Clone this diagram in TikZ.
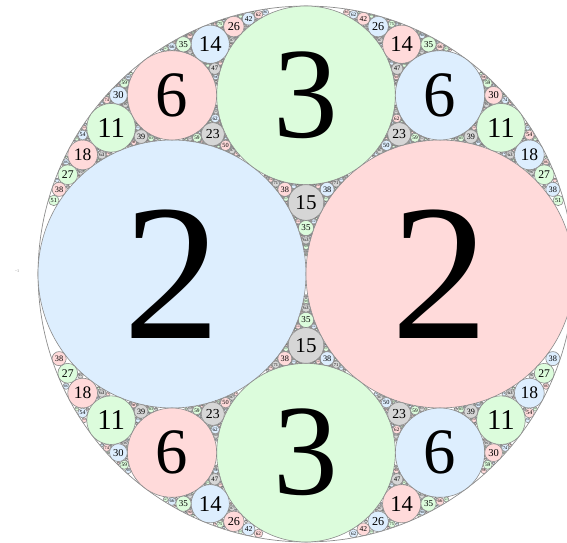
\documentclass[tikz,border=0pt]{standalone}
\usepackage{fontspec}
\setmainfont{Liberation Serif}
\usepackage{xcolor}
\usepackage{tikz}
\definecolor{GasketBlue}{HTML}{DDEEFE}
\definecolor{GasketPink}{HTML}{FFDADA}
\definecolor{GasketGreen}{HTML}{DCFCDC}
\definecolor{GasketGray}{HTML}{D6D6D6}
\definecolor{GasketLine}{HTML}{8C8C8C}

\newcount\gasketnum
\def\gasketmax{6}
\makeatletter
% read one circle "k,x,y,colour" into \g@k<n>, \g@x<n>, \g@y<n>, \g@c<n>
\def\gasket@rd#1,#2,#3,#4;#5{%
  \expandafter\def\csname g@k#5\endcsname{#1}%
  \expandafter\def\csname g@x#5\endcsname{#2}%
  \expandafter\def\csname g@y#5\endcsname{#3}%
  \expandafter\def\csname g@c#5\endcsname{#4}}
% one disc with its curvature written in it
\def\gasketdisc#1,#2,#3,#4;{%
  \global\advance\gasketnum by 1
  \edef\g@X{\fpeval{306+268*(#2)}}%
  \edef\g@Y{\fpeval{269+268*(#3)}}%
  \edef\g@r{\fpeval{5.36/(#1)}}%
  \path[disc,fill=#4] (\g@X,\g@Y) circle[radius=\g@r cm];
  \ifnum#1<301
    \edef\g@fs{\fpeval{((#1)<10 ? 1.45 : ((#1)<100 ? 1.18 : 0.85))*268/(#1)*0.569}}%
    \node[lbl] (n\the\gasketnum) at (\g@X,\g@Y) {\fontsize{\g@fs pt}{\g@fs pt}\selectfont #1};
  \fi}
% tangent triple #1 #2 #3, opposite circle #4, generation #5
\def\gasket#1#2#3#4#5{%
  \ifnum#5>\gasketmax\relax\else
  \begingroup
    \gasket@rd#1;a\gasket@rd#2;b\gasket@rd#3;c\gasket@rd#4;d%
    \edef\g@kn{\fpeval{2*(\g@ka+\g@kb+\g@kc)-\g@kd}}%
    \ifnum\g@kn>1200 \def\next{}\else
      \edef\g@xn{\fpeval{(2*(\g@ka*\g@xa+\g@kb*\g@xb+\g@kc*\g@xc)-\g@kd*\g@xd)/\g@kn}}%
      \edef\g@yn{\fpeval{(2*(\g@ka*\g@ya+\g@kb*\g@yb+\g@kc*\g@yc)-\g@kd*\g@yd)/\g@kn}}%
      \edef\g@new{\g@kn,\g@xn,\g@yn,\g@cd}%
      \expandafter\gasketdisc\g@new;%
      \edef\next{%
        \noexpand\gasket{#1}{#2}{\g@new}{#3}{\the\numexpr#5+1}%
        \noexpand\gasket{#1}{#3}{\g@new}{#2}{\the\numexpr#5+1}%
        \noexpand\gasket{#2}{#3}{\g@new}{#1}{\the\numexpr#5+1}}%
    \fi
  \expandafter\endgroup\next
  \fi}
\makeatother

\def\gO{-1,0,0,GasketGray}
\def\gL{2,-0.5,0,GasketBlue}
\def\gR{2,0.5,0,GasketPink}
\def\gT{3,0,0.6666666666666667,GasketGreen}

\begin{document}
\begin{tikzpicture}[
  x=0.02cm, y=0.02cm,
  disc/.style={draw=GasketLine, line width=0.35pt},
  lbl/.style={inner sep=0pt, text=black}
]
\useasboundingbox (0,0) rectangle (567,543);
\clip (0,0) rectangle (567,543);
\draw[GasketLine, line width=0.4pt] (306,269) circle[radius=5.36cm];
\node[font=\fontsize{2.4pt}{2.4pt}\selectfont, text=gray] (outer) at (17,272) {−1};
\expandafter\gasketdisc\gL;
\expandafter\gasketdisc\gR;
\expandafter\gasketdisc\gT;
\edef\gstart{%
  \noexpand\gasket{\gO}{\gL}{\gR}{\gT}{1}%
  \noexpand\gasket{\gO}{\gL}{\gT}{\gR}{1}%
  \noexpand\gasket{\gO}{\gR}{\gT}{\gL}{1}%
  \noexpand\gasket{\gL}{\gR}{\gT}{\gO}{1}}
\gstart
\end{tikzpicture}
\end{document}
